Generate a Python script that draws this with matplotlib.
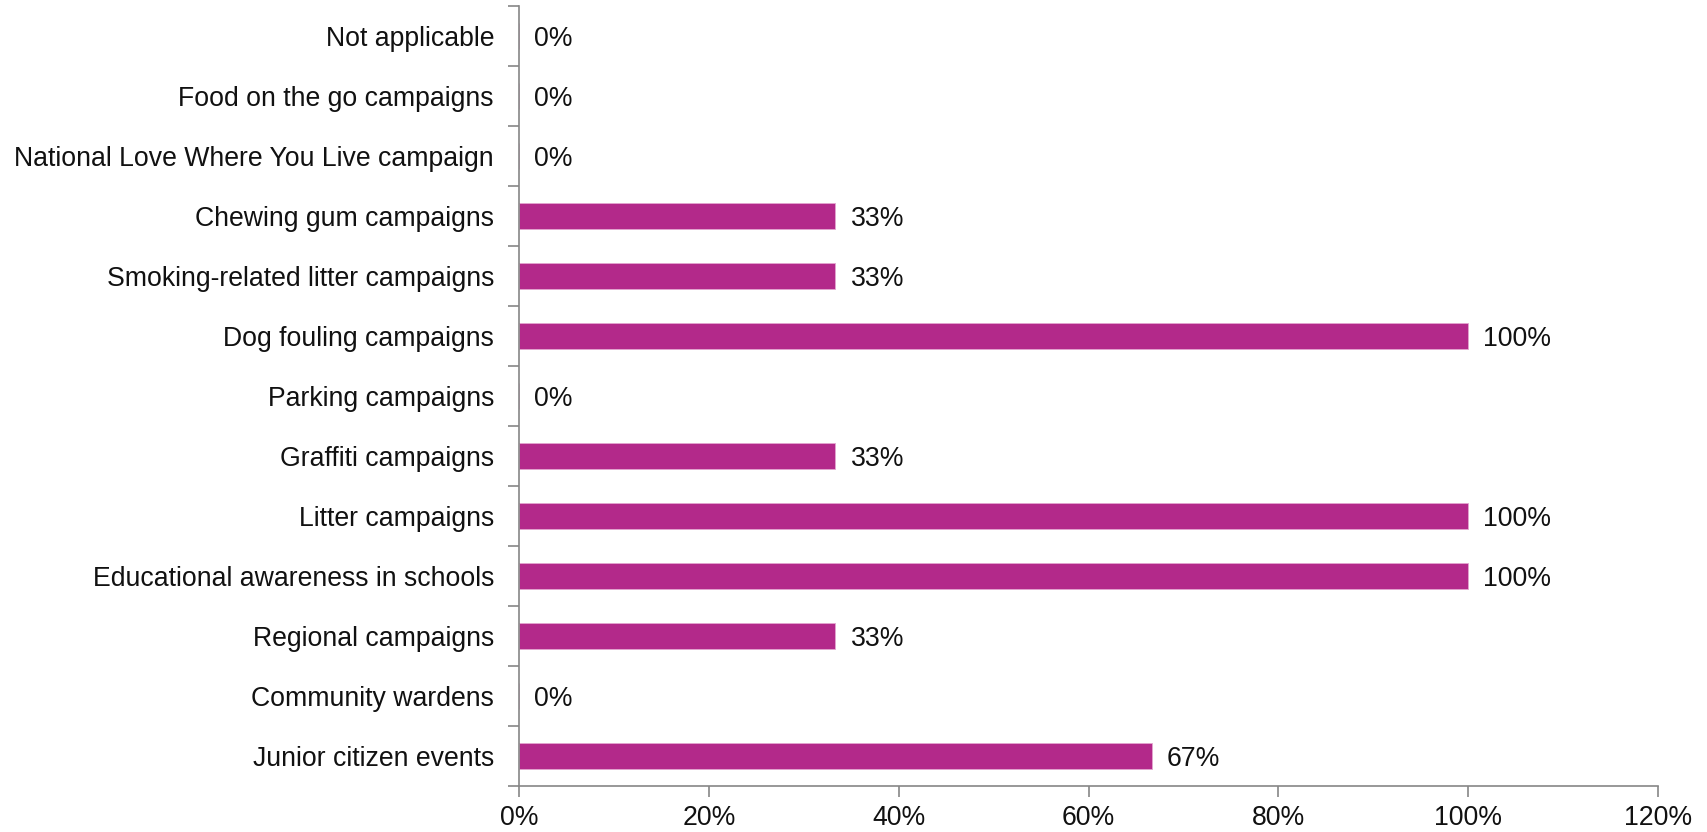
import matplotlib.pyplot as plt
from matplotlib.ticker import FuncFormatter, MultipleLocator

plt.rcParams['font.family'] = ['Liberation Sans', 'DejaVu Sans']

categories = [
    "Junior citizen events",
    "Community wardens",
    "Regional campaigns",
    "Educational awareness in schools",
    "Litter campaigns",
    "Graffiti campaigns",
    "Parking campaigns",
    "Dog fouling campaigns",
    "Smoking-related litter campaigns",
    "Chewing gum campaigns",
    "National Love Where You Live campaign",
    "Food on the go campaigns",
    "Not applicable",
]
values = [2 / 3, 0, 1 / 3, 1, 1, 1 / 3, 0, 1, 1 / 3, 1 / 3, 0, 0, 0]

bar_color = "#B3298A"
axis_color = "#868686"
text_color = "#111111"
fs = 19.2

fig = plt.figure(figsize=(17.07, 8.32), dpi=100)
ax = fig.add_axes([519 / 1707, 1 - 786 / 832, (1658 - 519) / 1707, (786 - 6) / 832])

ypos = list(range(len(categories)))
ax.barh(ypos, values, height=0.42, color=bar_color, edgecolor="#E3A6CF", linewidth=0.6)

for y, v in zip(ypos, values):
    ax.text(v + 0.016, y, f"{round(v * 100):.0f}%", va="center_baseline", ha="left",
            fontsize=fs, color=text_color)

ax.set_xlim(0, 1.2)
ax.set_ylim(-0.5, len(categories) - 0.5)
ax.xaxis.set_major_locator(MultipleLocator(0.2))
ax.xaxis.set_major_formatter(FuncFormatter(lambda x, _: f"{x * 100:.0f}%"))

# category boundaries carry the tick marks; names sit between them
ax.set_yticks([y - 0.5 for y in ypos] + [len(categories) - 0.5])
ax.set_yticklabels([])
ax.set_yticks(ypos, minor=True)
ax.set_yticklabels(categories, minor=True)
ax.tick_params(axis="y", which="minor", length=0, pad=18, labelsize=fs, labelcolor=text_color)
ax.tick_params(axis="y", which="major", length=8, color=axis_color, width=1.2)
ax.tick_params(axis="x", length=8, color=axis_color, width=1.2, pad=6,
               labelsize=fs, labelcolor=text_color)

for side in ("top", "right"):
    ax.spines[side].set_visible(False)
for side in ("left", "bottom"):
    ax.spines[side].set_color(axis_color)
    ax.spines[side].set_linewidth(1.2)

fig.savefig("out.png", dpi=100, facecolor="white")
